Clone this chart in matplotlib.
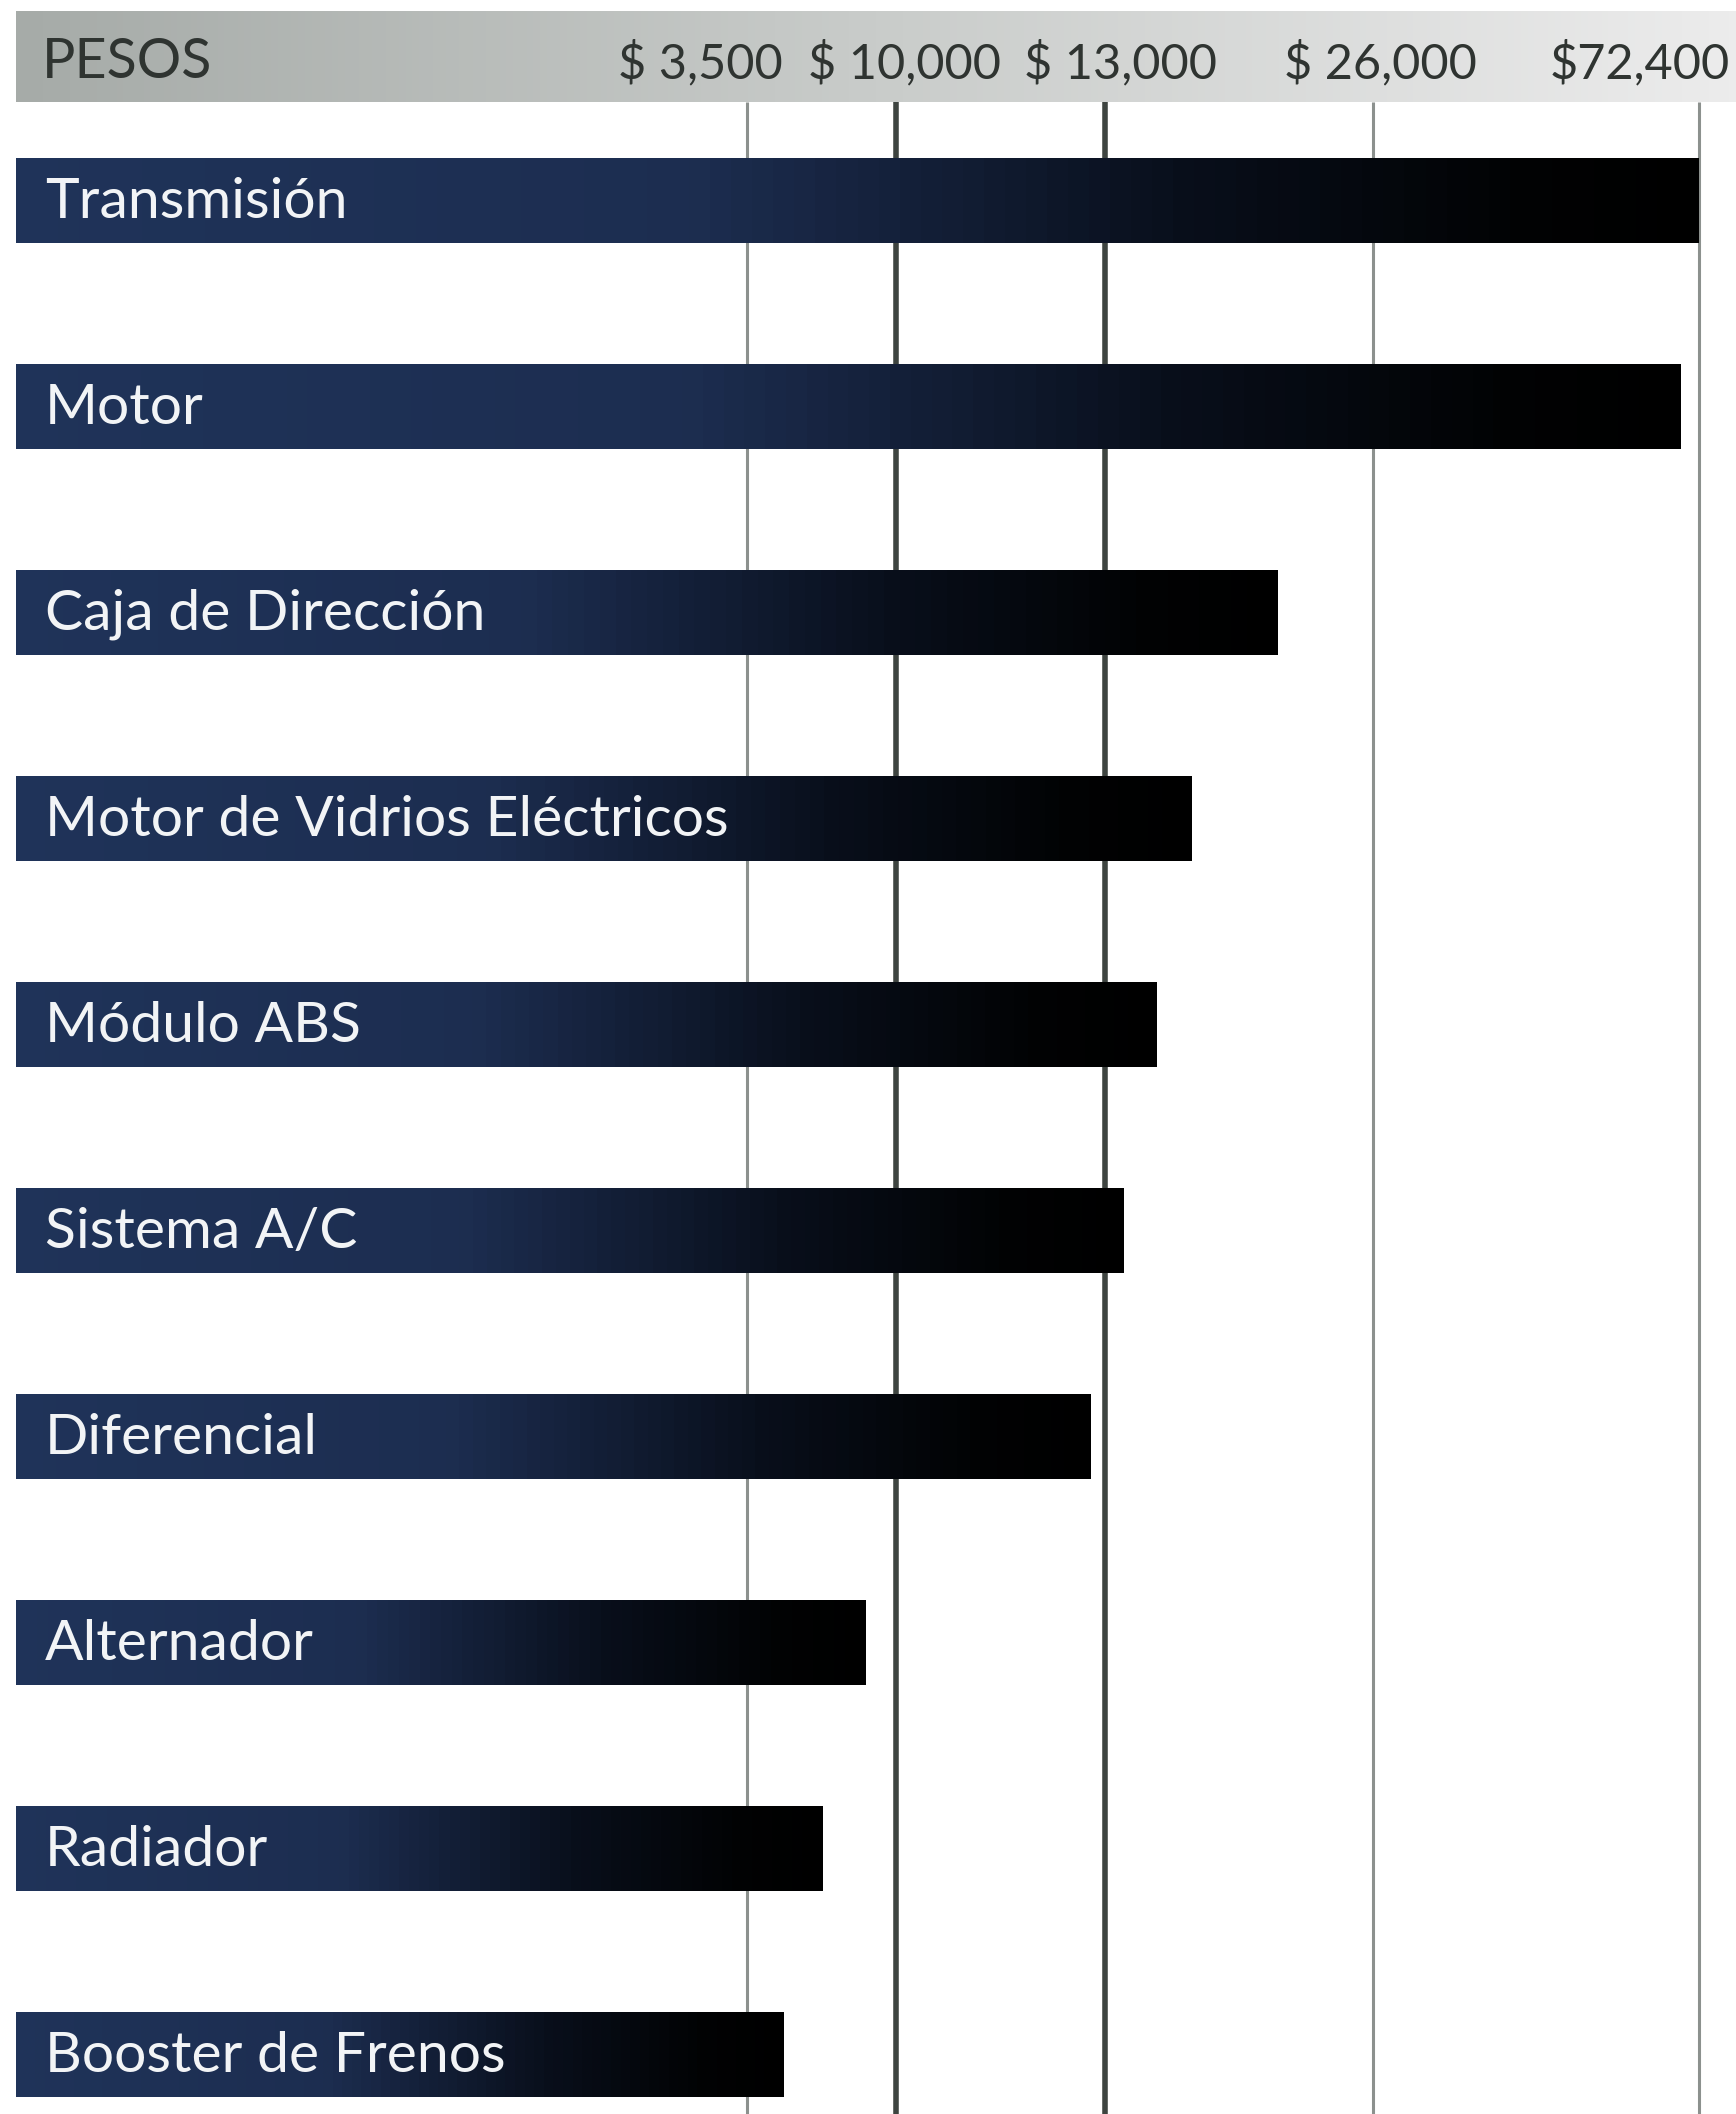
import numpy as np
import matplotlib
matplotlib.use("Agg")
import matplotlib.pyplot as plt
from matplotlib.colors import LinearSegmentedColormap

# data
parts = ["Transmisión", "Motor", "Caja de Dirección", "Motor de Vidrios Eléctricos",
         "Módulo ABS", "Sistema A/C", "Diferencial", "Alternador", "Radiador",
         "Booster de Frenos"]
cost = [72400, 69800, 21400, 17200, 15500, 13900, 12800, 8700, 6800, 5100]
tick_vals = [3500, 10000, 13000, 26000, 72400]
tick_labels = ["$ 3,500", "$ 10,000", "$ 13,000", "$ 26,000", "$72,400"]
header_label = "PESOS"

# the printed axis is not linear: piecewise scale anchored on the gridlines (pixels)
SCALE_VALS = np.array([0, 3500, 10000, 13000, 26000, 72400], float)
SCALE_PX = np.array([16, 747, 896, 1105, 1373, 1699], float)
W, H = 1736, 2114


def piecewise(v, xs, ys):
    v = np.asarray(v, float)
    lo = (ys[1] - ys[0]) / (xs[1] - xs[0])
    hi = (ys[-1] - ys[-2]) / (xs[-1] - xs[-2])
    return np.where(v < xs[0], ys[0] + (v - xs[0]) * lo,
                    np.where(v > xs[-1], ys[-1] + (v - xs[-1]) * hi,
                             np.interp(v, xs, ys)))


def fwd(v):
    return piecewise(v, SCALE_VALS, SCALE_PX)


def inv(p):
    return piecewise(p, SCALE_PX, SCALE_VALS)


bar_cmap = LinearSegmentedColormap.from_list(
    "bar", [(0, "#1f3359"), (0.4, "#1c2d50"), (0.7, "#080e1a"), (0.9, "#010203"), (1, "#000000")])
head_cmap = LinearSegmentedColormap.from_list("head", ["#a6aba8", "#c9ccca", "#ececec"])

fig = plt.figure(figsize=(W / 100, H / 100), dpi=100)
fig.patch.set_facecolor("white")

# header band with grey gradient
hax = fig.add_axes([16 / W, 1 - 102 / H, 1 - 16 / W, 91 / H])
hax.imshow(np.linspace(0, 1, 256)[None, :], cmap=head_cmap, aspect="auto")
hax.set_axis_off()

ax = fig.add_axes([0, 0, 1, 1])
ax.patch.set_visible(False)
ax.set_xscale("function", functions=(fwd, inv))
ax.set_xlim(float(inv(0)), float(inv(W)))
step = 206.1
ax.set_ylim((H - 200) / step, -200 / step)
ax.set_axis_off()

head_y = (63 - 200) / step
head_bottom = (102 - 200) / step

# gridlines
widths = [2.2, 4, 4, 2.2, 2.2]
colors = ["#8c918e", "#3e4440", "#3e4440", "#8c918e", "#8c918e"]
for v, lw, c in zip(tick_vals, widths, colors):
    ax.vlines(v, head_bottom, ax.get_ylim()[0], color=c, lw=lw, zorder=1)

# bars with a left-to-right navy->black gradient
N = 80
bar_h = 85 / step
for i, (name, v) in enumerate(zip(parts, cost)):
    edges = inv(np.linspace(fwd(0), fwd(v), N + 1))[:-1]
    ax.barh([i] * N, v - edges, left=edges, height=bar_h,
            color=bar_cmap(np.linspace(0, 1, N)), linewidth=0, zorder=2)
    ax.text(float(inv(45)), i + 0.01, name, color="#f2f4f6", fontsize=41,
            family="Lato", va="center", ha="left", zorder=3)

# header texts
ax.text(float(inv(42)), head_y, header_label, color="#2f3431", fontsize=40,
        family="Lato", va="center", ha="left", zorder=3)
offsets = [-47, 8, 15, 7, -59]
for v, lab, off in zip(tick_vals, tick_labels, offsets):
    ax.annotate(lab, (v, head_y), xytext=(off, 0), textcoords="offset pixels",
                color="#2f3431", fontsize=35, family="Lato",
                va="center", ha="center", zorder=3)

fig.savefig("out.png", dpi=100)
